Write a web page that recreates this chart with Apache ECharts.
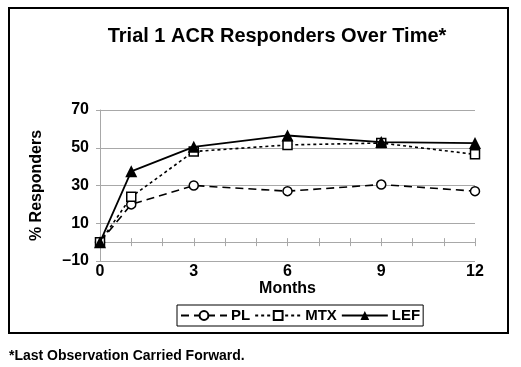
<!DOCTYPE html>
<html><head><meta charset="utf-8">
<script src="https://cdn.jsdelivr.net/npm/echarts@6/dist/echarts.min.js"></script>
<style>html,body{margin:0;padding:0;background:#fff}#c{width:521px;height:367px}</style>
</head><body><div id="c"></div>
<script>
const months = [0, 1, 3, 6, 9, 12];
const pl = [0, 20, 30, 27, 30.5, 27];
const mtx = [0, 24, 48, 51.5, 52.5, 46.5];
const lef = [0, 37.5, 50.5, 56.5, 53, 52.5];
const seriesNames = ['PL', 'MTX', 'LEF'];
const xTicks = [0, 3, 6, 9, 12];
const yTicks = [-10, 10, 30, 50, 70];

const FONT = 'Arial, "Liberation Sans", Helvetica, sans-serif';
const GRID = {left: 100, right: 46, top: 110, bottom: 106};
const GRAY = '#a8a8a8';
const pairs = a => months.map((m, i) => [m, a[i]]);

const chart = echarts.init(document.getElementById('c'), null, {renderer: 'canvas'});
chart.setOption({
  backgroundColor: '#fff',
  animation: false,
  textStyle: {fontFamily: FONT},
  grid: [Object.assign({}, GRID), Object.assign({}, GRID), Object.assign({}, GRID)],
  xAxis: [
    {gridIndex: 0, type: 'value', min: xTicks[0], max: xTicks[xTicks.length - 1], interval: 3, position: 'bottom',
     axisLine: {show: false, onZero: false}, axisTick: {show: false}, splitLine: {show: false},
     axisLabel: {color: '#000', fontSize: 16, fontWeight: 'bold', fontFamily: FONT, margin: 3},
     name: 'Months', nameLocation: 'middle', nameGap: 17,
     nameTextStyle: {color: '#000', fontSize: 16, fontWeight: 'bold', fontFamily: FONT}},
    {gridIndex: 1, type: 'value', min: 0, max: 12, interval: 1, position: 'bottom',
     axisLine: {show: true, onZero: true, lineStyle: {color: GRAY, width: 1}},
     axisTick: {show: true, inside: true, length: 4, lineStyle: {color: GRAY}},
     axisLabel: {show: false}, splitLine: {show: false}},
    {gridIndex: 2, type: 'value', min: 0, max: 12, interval: 1, position: 'bottom',
     axisLine: {show: true, onZero: true, lineStyle: {color: GRAY, width: 1}},
     axisTick: {show: true, inside: false, length: 4, lineStyle: {color: GRAY}},
     axisLabel: {show: false}, splitLine: {show: false}}
  ],
  yAxis: [
    {gridIndex: 0, type: 'value', min: yTicks[0], max: yTicks[yTicks.length - 1], interval: 20,
     axisLine: {show: true, lineStyle: {color: GRAY, width: 1}},
     axisTick: {show: true, length: 4, lineStyle: {color: GRAY}},
     splitLine: {show: true, lineStyle: {color: GRAY, width: 1}},
     axisLabel: {color: '#000', fontSize: 16, fontWeight: 'bold', fontFamily: FONT, margin: 11,
                 formatter: v => String(v).replace('-', '\u2013')},
     name: '% Responders', nameLocation: 'middle', nameRotate: 90, nameGap: 55,
     nameTextStyle: {color: '#000', fontSize: 16, fontWeight: 'bold', fontFamily: FONT}},
    {gridIndex: 1, type: 'value', min: -10, max: 70, show: false},
    {gridIndex: 2, type: 'value', min: -10, max: 70, show: false}
  ],
  legend: {
    left: 177, top: 305, orient: 'horizontal',
    data: seriesNames,
    itemWidth: 46, itemHeight: 11, itemGap: 4,
    padding: [3, 3, 3, 3],
    borderColor: '#000', borderWidth: 1,
    textStyle: {color: '#000', fontSize: 15, fontWeight: 'bold', fontFamily: FONT, padding: [0, 0, 0, -1]}
  },
  series: [
    {name: seriesNames[0], type: 'line', xAxisIndex: 0, yAxisIndex: 0, data: pairs(pl),
     symbol: 'circle', symbolSize: 9,
     itemStyle: {color: '#fff', borderColor: '#000', borderWidth: 1.5},
     lineStyle: {color: '#000', width: 1.6, type: [8, 5]}, z: 3},
    {name: seriesNames[1], type: 'line', xAxisIndex: 0, yAxisIndex: 0, data: pairs(mtx),
     symbol: 'rect', symbolSize: 9,
     itemStyle: {color: '#fff', borderColor: '#000', borderWidth: 1.5},
     lineStyle: {color: '#000', width: 1.6, type: [3, 3]}, z: 4},
    {name: seriesNames[2], type: 'line', xAxisIndex: 0, yAxisIndex: 0, data: pairs(lef),
     symbol: 'triangle', symbolSize: 12,
     itemStyle: {color: '#000', borderColor: '#000', borderWidth: 0},
     lineStyle: {color: '#000', width: 1.8, type: 'solid'}, z: 5}
  ],
  graphic: [
    {type: 'rect', shape: {x: 9, y: 8, width: 499, height: 325}, silent: true, z: -1,
     style: {fill: null, stroke: '#000', lineWidth: 2}},
    {type: 'text', x: 277, y: 36, silent: true,
     style: {text: 'Trial 1 ACR Responders Over Time*', fill: '#000', font: 'bold 20px ' + FONT,
             align: 'center', verticalAlign: 'middle'}},
    {type: 'text', x: 9, y: 356, silent: true,
     style: {text: '*Last Observation Carried Forward.', fill: '#000', font: 'bold 14px ' + FONT,
             align: 'left', verticalAlign: 'middle'}}
  ]
});
</script></body></html>
